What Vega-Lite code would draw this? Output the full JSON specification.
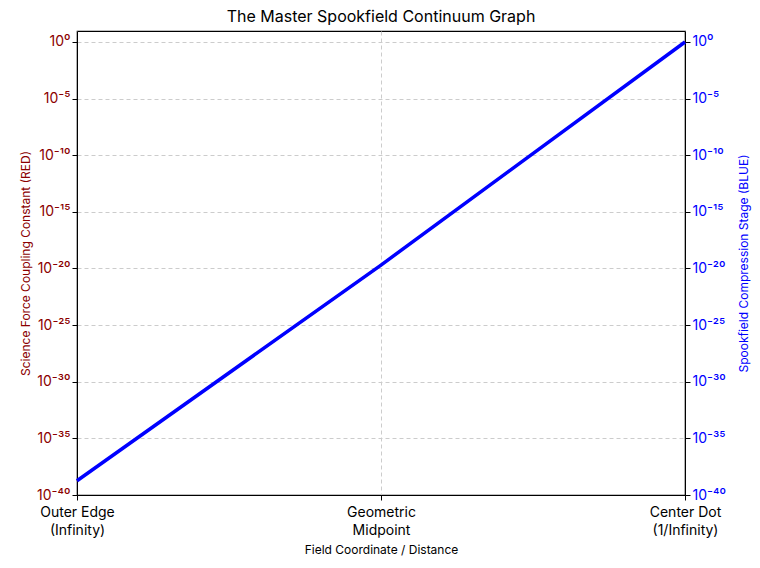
{
  "$schema": "https://vega.github.io/schema/vega-lite/v6.json",
  "autosize": {"type": "none"},
  "padding": {"left": 77, "top": 31, "right": 75, "bottom": 73},
  "width": 608,
  "height": 464,
  "title": {
    "text": "The Master Spookfield Continuum Graph",
    "font": "Inter",
    "fontSize": 16,
    "fontWeight": "normal",
    "color": "black",
    "offset": 6
  },
  "config": {
    "font": "Inter",
    "view": {"stroke": "black", "strokeWidth": 1.2},
    "axis": {
      "gridDash": [4, 3],
      "gridColor": "#cccccc",
      "domainColor": "black",
      "tickColor": "black",
      "labelFontSize": 14,
      "titleFontSize": 12,
      "titleFontWeight": "normal",
      "labelFont": "Inter",
      "titleFont": "Inter"
    }
  },
  "data": {
    "values": [
      {"position": 0, "coupling": 1.8e-39, "compression": 1.8e-39},
      {"position": 0.5, "coupling": 2e-20, "compression": 2e-20},
      {"position": 1, "coupling": 1, "compression": 1}
    ]
  },
  "encoding": {
    "x": {
      "field": "position",
      "type": "quantitative",
      "scale": {"domain": [0, 1], "nice": false},
      "axis": {
        "values": [0, 0.5, 1],
        "title": "Field Coordinate / Distance",
        "labelColor": "black",
        "labelFlush": false,
        "labelAlign": "center",
        "labelExpr": "datum.value == 0 ? ['Outer Edge', '(Infinity)'] : datum.value == 0.5 ? ['Geometric', 'Midpoint'] : ['Center Dot', '(1/Infinity)']",
        "labelLineHeight": 18,
        "labelPadding": 5,
        "titlePadding": 7
      }
    }
  },
  "layer": [
    {
      "mark": {"type": "line", "color": "darkred", "strokeWidth": 2},
      "encoding": {
        "y": {
          "field": "coupling",
          "type": "quantitative",
          "scale": {"type": "log", "domain": [1e-40, 9.3], "nice": false},
          "axis": {
            "orient": "left",
            "title": "Science Force Coupling Constant (RED)",
            "titleColor": "darkred",
            "labelColor": "darkred",
            "values": [1e-40, 1e-35, 1e-30, 1e-25, 1e-20, 1e-15, 1e-10, 1e-5, 1],
            "labelExpr": "['10⁰','10⁻⁵','10⁻¹⁰','10⁻¹⁵','10⁻²⁰','10⁻²⁵','10⁻³⁰','10⁻³⁵','10⁻⁴⁰'][round(-log(datum.value) / LN10 / 5)]"
          }
        }
      }
    },
    {
      "mark": {"type": "line", "color": "blue", "strokeWidth": 3.5},
      "encoding": {
        "y": {
          "field": "compression",
          "type": "quantitative",
          "scale": {"type": "log", "domain": [1e-40, 9.3], "nice": false},
          "axis": {
            "orient": "right",
            "grid": false,
            "title": "Spookfield Compression Stage (BLUE)",
            "titleColor": "blue",
            "titleAngle": 270,
            "titleX": 58,
            "titleY": 232,
            "titleAlign": "center",
            "titleBaseline": "middle",
            "labelColor": "blue",
            "values": [1e-40, 1e-35, 1e-30, 1e-25, 1e-20, 1e-15, 1e-10, 1e-5, 1],
            "labelExpr": "['10⁰','10⁻⁵','10⁻¹⁰','10⁻¹⁵','10⁻²⁰','10⁻²⁵','10⁻³⁰','10⁻³⁵','10⁻⁴⁰'][round(-log(datum.value) / LN10 / 5)]"
          }
        }
      }
    }
  ],
  "resolve": {"scale": {"y": "independent"}}
}
